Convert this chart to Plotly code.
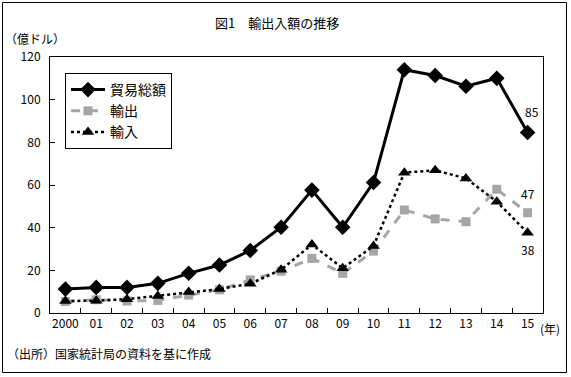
import plotly.graph_objects as go

years = ["2000", "01", "02", "03", "04", "05", "06", "07", "08", "09", "10", "11", "12", "13", "14", "15"]
total = [11.2, 12, 12, 13.9, 18.6, 22.5, 29.3, 40.2, 57.6, 40.2, 61.2, 114, 111.3, 106.3, 110, 84.6]
exports = [5.4, 6.2, 5.6, 5.9, 8.4, 10.9, 15.5, 19.6, 25.6, 18.6, 29.0, 48.3, 44.1, 42.8, 58.0, 47.0]
imports = [5.6, 5.8, 6.5, 8.0, 9.8, 11.2, 13.7, 20.3, 32.1, 21.0, 31.4, 65.8, 66.9, 63.1, 52.2, 37.6]
names = ["貿易総額", "輸出", "輸入"]
end_labels = ["85", "47", "38"]

FONT = "Noto Sans CJK JP, sans-serif"
W, H = 571, 377
L, R, T, B = 50, 28, 57, 64
pw, ph = W - L - R, H - T - B

fig = go.Figure()
fig.add_trace(go.Scatter(x=years, y=total, name=names[0], mode="lines+markers",
                         line=dict(color="black", width=3),
                         marker=dict(symbol="diamond", size=12, color="black")))
fig.add_trace(go.Scatter(x=years, y=exports, name=names[1], mode="lines+markers",
                         line=dict(color="#a6a6a6", width=3, dash="dash"),
                         marker=dict(symbol="square", size=9, color="#a6a6a6")))
fig.add_trace(go.Scatter(x=years, y=imports, name=names[2], mode="lines+markers",
                         line=dict(color="black", width=2.5, dash="dot"),
                         marker=dict(symbol="triangle-up", size=11, color="black")))

anns = [
    dict(x=years[-1], y=total[-1], text=end_labels[0], yshift=21, xshift=4),
    dict(x=years[-1], y=exports[-1], text=end_labels[1], yshift=19, xshift=0),
    dict(x=years[-1], y=imports[-1], text=end_labels[2], yshift=-17, xshift=0),
]
for a in anns:
    a.update(xref="x", yref="y", showarrow=False, font=dict(size=12, color="black", family=FONT))

def px(x):
    return (x - L) / pw

def py(y):
    return (H - B - y) / ph

def note(text, x, y, size, xanchor="left"):
    return dict(text=text, x=px(x), y=py(y), xref="paper", yref="paper",
                xanchor=xanchor, yanchor="middle", showarrow=False,
                font=dict(size=size, color="black", family=FONT))

anns += [
    note("図1　輸出入額の推移", 277, 22, 13, "center"),
    note("（億ドル）", 3, 38, 12),
    note("(年)", 538, 328, 12),
    note("（出所）国家統計局の資料を基に作成", 5, 353, 12),
]

fig.update_layout(
    width=W, height=H,
    margin=dict(l=L, r=R, t=T, b=B, autoexpand=False),
    paper_bgcolor="white", plot_bgcolor="white",
    font=dict(family=FONT, size=12, color="black"),
    showlegend=True,
    legend=dict(x=px(65), y=py(73), xanchor="left", yanchor="top",
                bordercolor="black", borderwidth=1, bgcolor="white",
                font=dict(size=14, family=FONT), itemwidth=34,
                tracegroupgap=0),
    annotations=anns,
    shapes=[dict(type="rect", xref="paper", yref="paper",
                 x0=px(2.5), x1=px(566.5), y0=py(372.5), y1=py(2.5),
                 line=dict(color="black", width=1))],
    xaxis=dict(type="category", tickson="boundaries", ticks="inside", ticklen=5,
               tickcolor="black", showline=True, mirror=True, linecolor="black",
               linewidth=1, showgrid=False, zeroline=False, tickangle=0,
               automargin=False, range=[-0.5, 15.5], tickfont=dict(size=12)),
    yaxis=dict(range=[0, 120], dtick=20, ticks="inside", ticklen=5, tickcolor="black",
               showline=True, mirror=True, linecolor="black", linewidth=1,
               showgrid=False, zeroline=False, tickfont=dict(size=12),
               automargin=False, ticklabelstandoff=6),
)

fig.write_html("out.html", config={"displayModeBar": False},
               post_script="document.body.style.margin='0';document.body.style.padding='0';")
